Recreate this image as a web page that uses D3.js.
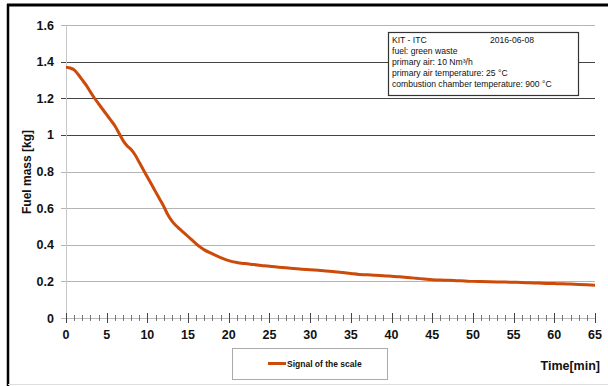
<!DOCTYPE html>
<html><head><meta charset="utf-8">
<script src="https://cdn.jsdelivr.net/npm/d3@7"></script>
<style>body{margin:0;background:#fff}svg{display:block;font-family:Arial,"Liberation Sans",sans-serif}</style>
</head><body><svg id="c" width="608" height="386"></svg>
<script>
const times = [0,0.5,1,1.5,2,2.5,3,3.5,4,4.5,5,5.5,6,6.5,7,7.5,8,8.5,9,9.5,10,10.5,11,11.5,12,12.5,13,13.5,14,14.5,15,15.5,16,16.5,17,18,19,20,21,22,23,24,25,26,27,28,29,30,31,32,33,34,35,36,37,38,39,40,41,42,43,44,45,46,47,48,49,50,51,52,53,54,55,56,57,58,59,60,61,62,63,64,65];
const mass = [1.37,1.365,1.355,1.33,1.30,1.27,1.235,1.20,1.17,1.14,1.11,1.08,1.05,1.01,0.97,0.94,0.92,0.89,0.85,0.81,0.77,0.73,0.69,0.65,0.61,0.565,0.53,0.505,0.485,0.465,0.445,0.425,0.405,0.387,0.372,0.35,0.33,0.313,0.303,0.297,0.292,0.287,0.282,0.278,0.274,0.27,0.266,0.264,0.261,0.257,0.253,0.248,0.243,0.238,0.236,0.233,0.231,0.228,0.225,0.221,0.217,0.213,0.209,0.207,0.206,0.204,0.202,0.2,0.199,0.198,0.197,0.196,0.195,0.194,0.192,0.191,0.189,0.188,0.187,0.185,0.183,0.181,0.179];
const yTicks = [0,0.2,0.4,0.6,0.8,1,1.2,1.4,1.6];
const xTicks = [0,5,10,15,20,25,30,35,40,45,50,55,60,65];
const infoLines = ["fuel: green waste","primary air: 10 Nm³/h","primary air temperature: 25 °C","combustion chamber temperature: 900 °C"];
const infoTitle = "KIT - ITC", infoDate = "2016-06-08";
const seriesName = "Signal of the scale";
const yTitle = "Fuel mass [kg]", xTitle = "Time[min]";

const svg = d3.select("#c");
const x = d3.scaleLinear().domain([0,65]).range([66,595]);
const y = d3.scaleLinear().domain([0,1.6]).range([318,25]);

// frame
svg.append("line").attr("x1",7).attr("x2",608).attr("y1",5).attr("y2",5).attr("stroke","#000").attr("stroke-width",3);
svg.append("line").attr("x1",8).attr("x2",8).attr("y1",4).attr("y2",386).attr("stroke","#000").attr("stroke-width",2.5);
svg.append("line").attr("x1",8).attr("x2",608).attr("y1",384.5).attr("y2",384.5).attr("stroke","#ddd").attr("stroke-width",1);

// gridlines
svg.append("g").selectAll("line").data(yTicks.filter(d=>d>0)).join("line")
  .attr("x1",61).attr("x2",595).attr("y1",d=>Math.round(y(d))+0.5).attr("y2",d=>Math.round(y(d))+0.5)
  .attr("stroke",d=>(d>=1&&d<=1.4)?"#444":"#b4b4b4").attr("stroke-width",1);

// y axis line
svg.append("line").attr("x1",66.5).attr("x2",66.5).attr("y1",25).attr("y2",318).attr("stroke","#c8c8c8");
// x axis
svg.append("line").attr("x1",61).attr("x2",595).attr("y1",318.5).attr("y2",318.5).attr("stroke","#bbb");
const minor = d3.range(0,66,1);
svg.append("g").selectAll("line").data(minor).join("line")
  .attr("x1",d=>Math.round(x(d))+0.5).attr("x2",d=>Math.round(x(d))+0.5)
  .attr("y1",d=>d%5===0?313:315).attr("y2",d=>d%5===0?323:321)
  .attr("stroke",d=>d%5===0?"#444":"#777").attr("stroke-width",1);

// tick labels
svg.append("g").selectAll("text").data(yTicks).join("text")
  .attr("x",54).attr("y",d=>y(d)+4.5).attr("text-anchor","end")
  .attr("font-size",12.5).attr("font-weight","bold").attr("fill","#111").text(d=>d);
svg.append("g").selectAll("text").data(xTicks).join("text")
  .attr("x",d=>x(d)).attr("y",339).attr("text-anchor","middle")
  .attr("font-size",12.5).attr("font-weight","bold").attr("fill","#111").text(d=>d);

// axis titles
svg.append("text").attr("transform","translate(31,172) rotate(-90)").attr("text-anchor","middle")
  .attr("font-size",12).attr("font-weight","bold").attr("fill","#111").text(yTitle);
svg.append("text").attr("x",600).attr("y",370).attr("text-anchor","end")
  .attr("font-size",12.5).attr("font-weight","bold").attr("fill","#111").text(xTitle);

// series
const line = d3.line().x((d,i)=>x(times[i])).y(d=>y(d)).curve(d3.curveMonotoneX);
svg.append("path").datum(mass).attr("d",line).attr("fill","none")
  .attr("stroke","#cc4a0a").attr("stroke-width",3).attr("stroke-linejoin","round");

// info box
const ib = svg.append("g");
ib.append("rect").attr("x",388.5).attr("y",32.5).attr("width",190).attr("height",63).attr("fill","#fff").attr("stroke","#333").attr("stroke-width",1.2);
ib.append("text").attr("x",392).attr("y",43).attr("font-size",8.6).attr("fill","#111").text(infoTitle);
ib.append("text").attr("x",490).attr("y",43).attr("font-size",8.6).attr("fill","#111").text(infoDate);
ib.selectAll("text.l").data(infoLines).join("text").attr("class","l")
  .attr("x",392).attr("y",(d,i)=>54+i*11).attr("font-size",8.6).attr("fill","#111").text(d=>d);

// legend
const lg = svg.append("g");
lg.append("rect").attr("x",232.5).attr("y",348.5).attr("width",155).attr("height",31).attr("fill","#fff").attr("stroke","#aaa");
lg.append("line").attr("x1",268).attr("x2",286).attr("y1",363.5).attr("y2",363.5).attr("stroke","#cc4a0a").attr("stroke-width",3);
lg.append("text").attr("x",287).attr("y",366.5).attr("font-size",8.5).attr("font-weight","bold").attr("fill","#111").text(seriesName);
</script></body></html>
